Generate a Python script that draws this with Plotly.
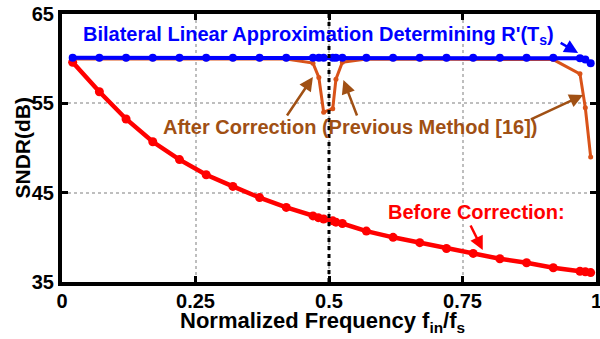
import plotly.graph_objects as go

# ---------------- data ----------------
f_red = [0.02, 0.07, 0.12, 0.17, 0.22, 0.27, 0.32, 0.37, 0.42, 0.47, 0.48, 0.49,
         0.507, 0.513, 0.525, 0.57, 0.62, 0.67, 0.72, 0.77, 0.82, 0.87, 0.92, 0.97, 0.98, 0.99]
sndr_before = [59.6, 56.3, 53.25, 50.7, 48.7, 47.0, 45.7, 44.45, 43.35, 42.4, 42.2, 42.05,
               41.85, 41.7, 41.55, 40.7, 40.0, 39.4, 38.75, 38.2, 37.6, 37.15, 36.6, 36.2, 36.15, 36.05]

f_corr = [0.02, 0.07, 0.12, 0.17, 0.22, 0.27, 0.32, 0.37, 0.42, 0.47, 0.481, 0.49,
          0.507, 0.513, 0.525, 0.57, 0.62, 0.67, 0.72, 0.77, 0.82, 0.87, 0.92, 0.97, 0.98, 0.99]
sndr_prev = [59.95, 59.95, 59.95, 59.95, 59.95, 59.95, 59.95, 59.95, 59.95, 59.5, 57.9, 54.0,
             54.4, 57.7, 59.6, 59.95, 59.95, 59.95, 59.95, 59.95, 59.95, 59.95, 59.9, 58.3, 54.5, 49.0]
sndr_bilateral = [60.1, 60.1, 60.1, 60.1, 60.1, 60.1, 60.1, 60.1, 60.1, 60.1, 60.1, 60.1,
                  60.1, 60.1, 60.1, 60.1, 60.1, 60.1, 60.1, 60.1, 60.1, 60.1, 60.1, 60.05, 59.9, 59.5]

x_ticks = [0, 0.25, 0.5, 0.75, 1]
x_labels = ["0", "0.25", "0.5", "0.75", "1"]
y_ticks = [35, 45, 55, 65]
y_labels = ["35", "45", "55", "65"]

RED = "rgb(255,0,0)"
BLUE = "rgb(0,0,255)"
ORANGE = "rgb(217,83,25)"
BROWN = "rgb(160,80,20)"
FONT = "Liberation Sans, Arial, sans-serif"

fig = go.Figure()
fig.add_trace(go.Scatter(x=f_red, y=sndr_before, mode="lines+markers",
                         line=dict(color=RED, width=4.5),
                         marker=dict(color=RED, size=9), showlegend=False))
fig.add_trace(go.Scatter(x=f_corr, y=sndr_prev, mode="lines+markers",
                         line=dict(color=ORANGE, width=3),
                         marker=dict(color=ORANGE, size=5), showlegend=False))
fig.add_trace(go.Scatter(x=f_corr, y=sndr_bilateral, mode="lines+markers",
                         line=dict(color=BLUE, width=4),
                         marker=dict(color=BLUE, size=8), showlegend=False))

# black dotted line at fs/2
fig.add_shape(type="line", xref="x", yref="y", x0=0.5, x1=0.5, y0=35, y1=65,
              line=dict(color="black", width=3, dash="4px,4px"), layer="above")

annots = []
# text labels
annots.append(dict(x=0.481, y=62.59, xref="x", yref="y", showarrow=False,
                   text="<b>Bilateral Linear Approximation Determining R'(T<sub>s</sub>)</b>",
                   font=dict(family=FONT, size=20, color=BLUE)))
annots.append(dict(x=0.5395, y=52.35, xref="x", yref="y", showarrow=False,
                   text="<b>After Correction (Previous Method [16])</b>",
                   font=dict(family=FONT, size=20, color=BROWN)))
annots.append(dict(x=0.7758, y=42.83, xref="x", yref="y", showarrow=False,
                   text="<b>Before Correction:</b>",
                   font=dict(family=FONT, size=20, color=RED)))

# arrows (head x,y ; tail ax,ay)
def arrow(hx, hy, tx, ty, color):
    return dict(x=hx, y=hy, ax=tx, ay=ty, xref="x", yref="y", axref="x", ayref="y",
                text="", showarrow=True, arrowhead=2, arrowsize=1.1, arrowwidth=2.5,
                arrowcolor=color)

annots.append(arrow(0.9665, 60.63, 0.931, 61.87, BLUE))
annots.append(arrow(0.4698, 57.95, 0.4195, 53.47, BROWN))
annots.append(arrow(0.527, 57.61, 0.5535, 53.47, BROWN))
annots.append(arrow(0.9758, 55.93, 0.8753, 53.13, BROWN))
annots.append(arrow(0.7879, 38.58, 0.7637, 41.49, RED))

# last x tick label (sits on the right edge of the page)
annots.append(dict(x=1, y=-0.022, xref="paper", yref="paper", showarrow=False,
                   text="<b>%s</b>" % x_labels[-1], xanchor="center", yanchor="top",
                   font=dict(family=FONT, size=20, color="black")))

# axis titles
annots.append(dict(x=0.488, y=-0.148, xref="paper", yref="paper", showarrow=False,
                   text="<b>Normalized Frequency f<sub>in</sub>/f<sub>s</sub></b>",
                   font=dict(family=FONT, size=22, color="black"),
                   xanchor="center", yanchor="middle"))
annots.append(dict(x=-0.074, y=0.5, xref="paper", yref="paper", showarrow=False,
                   text="<b>SNDR(dB)</b>", textangle=-90,
                   font=dict(family=FONT, size=21, color="black"),
                   xanchor="center", yanchor="middle"))

fig.update_layout(
    width=600, height=339,
    margin=dict(l=62, r=0, t=14, b=57),
    paper_bgcolor="white", plot_bgcolor="white",
    annotations=annots,
    showlegend=False,
)
fig.update_xaxes(range=[0, 1], tickvals=x_ticks[:-1], ticktext=["<b>%s</b>" % t for t in x_labels[:-1]],
                 tickfont=dict(family=FONT, size=20, color="black"),
                 showline=True, linecolor="black", linewidth=4, mirror="ticks",
                 ticks="inside", ticklen=6, tickwidth=3, tickcolor="black",
                 showgrid=True, gridcolor="rgb(190,190,190)", gridwidth=2, griddash="3px,3px",
                 zeroline=False, ticklabelstandoff=-2)
fig.update_yaxes(range=[35, 65], tickvals=y_ticks, ticktext=["<b>%s</b>" % t for t in y_labels],
                 tickfont=dict(family=FONT, size=20, color="black"),
                 showline=True, linecolor="black", linewidth=4, mirror="ticks",
                 ticks="inside", ticklen=6, tickwidth=3, tickcolor="black",
                 showgrid=True, gridcolor="rgb(190,190,190)", gridwidth=1.5, griddash="3px,3px",
                 zeroline=False, ticklabelstandoff=0)

fig.write_html("out.html")
